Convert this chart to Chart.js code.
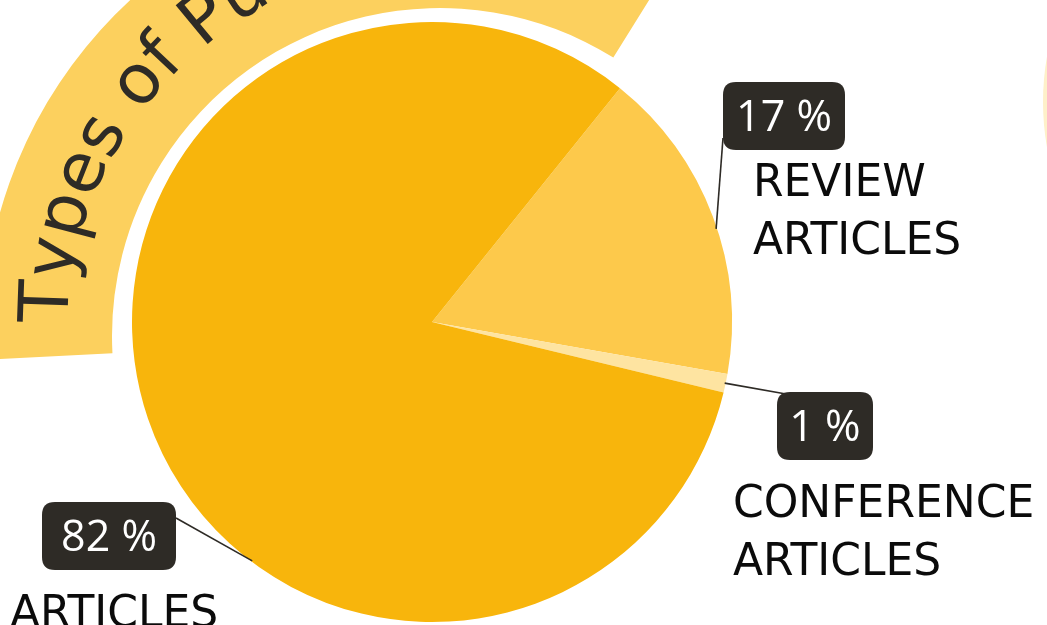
<!DOCTYPE html>
<html>
<head>
<meta charset="utf-8">
<script src="https://cdn.jsdelivr.net/npm/chart.js@4.4.1/dist/chart.umd.min.js"></script>
<style>
  html, body { margin: 0; padding: 0; background: #ffffff; overflow: hidden; }
  #wrap { width: 1047px; height: 625px; position: relative; }
</style>
</head>
<body>
<div id="wrap"><canvas id="c"></canvas></div>
<script>
// ---- data ----
const categories = ['REVIEW ARTICLES', 'CONFERENCE ARTICLES', 'ARTICLES'];
const values = [17, 1, 82];
const percentLabels = ['17 %', '1 %', '82 %'];
const titleText = 'Types of Publications';

// ---- styling / layout ----
const sliceColors = ['#FDC94B', '#FEE4A1', '#F8B50C'];
const darkColor = '#2E2B26';
const FONT = '"DejaVu Sans", sans-serif';
const PCT_FONT = '"Open Sans", sans-serif';

// box: [x, y, w, h]; nameX, nameY: baselines of name lines
// anchorFrac: where along the slice the leader touches the rim; from: leader start point
const labelLayout = [
  { box: [723, 82, 122, 68], nameX: 753, nameY: [196, 254], anchorFrac: 0.54, from: [723, 138] },
  { box: [777, 392, 96, 68], nameX: 733, nameY: [517, 575], anchorFrac: 0.5, from: [786, 394] },
  { box: [42, 502, 134, 68], nameX: 10, nameY: [627], anchorFrac: 0.384, from: [176, 518] }
];

// banner geometry (decoration around the pie)
const banner = { cx: 440, cy: 336, rIn: 328, rOut: 457, a0: 177, a1: 301.9, textR: 373, textStart: 182, fontPx: 69 };

function roundRect(ctx, x, y, w, h, r) {
  ctx.beginPath();
  ctx.moveTo(x + r, y);
  ctx.lineTo(x + w - r, y);
  ctx.quadraticCurveTo(x + w, y, x + w, y + r);
  ctx.lineTo(x + w, y + h - r);
  ctx.quadraticCurveTo(x + w, y + h, x + w - r, y + h);
  ctx.lineTo(x + r, y + h);
  ctx.quadraticCurveTo(x, y + h, x, y + h - r);
  ctx.lineTo(x, y + r);
  ctx.quadraticCurveTo(x, y, x + r, y);
  ctx.closePath();
}

const decorPlugin = {
  id: 'decor',
  beforeDatasetsDraw(chart) {
    const ctx = chart.ctx;
    const B = banner;
    ctx.save();
    // faint circle at right edge
    ctx.fillStyle = '#FEF0C9';
    ctx.beginPath();
    ctx.arc(1043 + 260, 102, 260, 0, Math.PI * 2);
    ctx.fill();

    // curved banner
    const a0 = B.a0 * Math.PI / 180, a1 = B.a1 * Math.PI / 180;
    ctx.fillStyle = '#FCD05E';
    ctx.beginPath();
    ctx.arc(B.cx, B.cy, B.rOut, a0, a1, false);
    ctx.arc(B.cx, B.cy, B.rIn, a1, a0, true);
    ctx.closePath();
    ctx.fill();

    // curved title text
    ctx.fillStyle = darkColor;
    ctx.font = B.fontPx + 'px ' + FONT;
    ctx.textAlign = 'left';
    ctx.textBaseline = 'alphabetic';
    let theta = B.textStart * Math.PI / 180;
    for (const ch of titleText) {
      const w = ctx.measureText(ch).width;
      ctx.save();
      ctx.translate(B.cx + B.textR * Math.cos(theta), B.cy + B.textR * Math.sin(theta));
      ctx.rotate(theta + Math.PI / 2);
      ctx.fillText(ch, 0, 0);
      ctx.restore();
      theta += w / B.textR;
    }
    ctx.restore();
  },
  afterDatasetsDraw(chart) {
    const ctx = chart.ctx;
    const meta = chart.getDatasetMeta(0);
    ctx.save();
    meta.data.forEach((arc, i) => {
      const L = labelLayout[i];
      const ang = arc.startAngle + (arc.endAngle - arc.startAngle) * L.anchorFrac;
      const ax = arc.x + (arc.outerRadius - 1) * Math.cos(ang);
      const ay = arc.y + (arc.outerRadius - 1) * Math.sin(ang);
      // leader line
      ctx.strokeStyle = darkColor;
      ctx.lineWidth = 1.6;
      ctx.beginPath();
      ctx.moveTo(L.from[0], L.from[1]);
      ctx.lineTo(ax, ay);
      ctx.stroke();
      // box
      const [bx, by, bw, bh] = L.box;
      ctx.fillStyle = darkColor;
      roundRect(ctx, bx, by, bw, bh, 13);
      ctx.fill();
      // percentage text
      ctx.fillStyle = '#ffffff';
      ctx.font = '43px ' + PCT_FONT;
      ctx.textAlign = 'center';
      ctx.textBaseline = 'alphabetic';
      ctx.fillText(percentLabels[i], bx + bw / 2, by + bh / 2 + 15);
      // name
      ctx.fillStyle = '#0b0b0b';
      ctx.font = '44px ' + FONT;
      ctx.textAlign = 'left';
      const words = categories[i].split(' ');
      words.forEach((wd, k) => {
        if (L.nameY[k] !== undefined) ctx.fillText(wd, L.nameX, L.nameY[k]);
      });
    });
    ctx.restore();
  }
};

new Chart(document.getElementById('c'), {
  type: 'pie',
  data: {
    labels: categories,
    datasets: [{
      data: values,
      backgroundColor: sliceColors,
      borderWidth: 0,
      hoverOffset: 0
    }]
  },
  options: {
    responsive: true,
    maintainAspectRatio: false,
    animation: false,
    rotation: 38.8,
    layout: { padding: { left: 132, right: 315, top: 22, bottom: 3 } },
    plugins: {
      legend: { display: false },
      tooltip: { enabled: false }
    }
  },
  plugins: [decorPlugin]
});
</script>
</body>
</html>
